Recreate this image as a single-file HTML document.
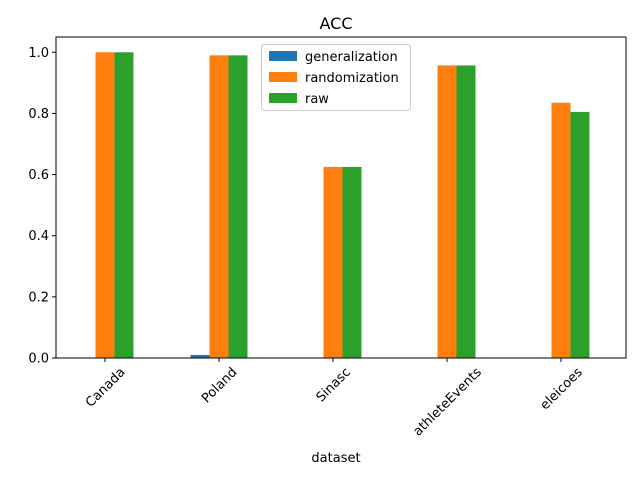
<!DOCTYPE html>
<html><head><meta charset="utf-8"><style>
body{margin:0;background:#fff;font-family:"Liberation Sans","DejaVu Sans",sans-serif}
</style></head><body>
<svg width="640" height="480" font-family="DejaVu Sans, Liberation Sans, sans-serif">
<rect width="640" height="480" fill="#fff"/>
<text x="336" y="29" font-size="16" text-anchor="middle">ACC</text>
<g id="bars"></g>
<g id="axes"></g>
<text x="336" y="462" font-size="13" text-anchor="middle">dataset</text>
<g>
<rect x="261.5" y="44.5" width="149" height="66" rx="3" fill="#fff" fill-opacity="0.8" stroke="#ccc"/>
<rect x="269" y="51" width="28" height="10" fill="#1f77b4"/>
<text x="305" y="61" font-size="13">generalization</text>
<rect x="269" y="72" width="28" height="10" fill="#ff7f0e"/>
<text x="305" y="82" font-size="13">randomization</text>
<rect x="269" y="93" width="28" height="10" fill="#2ca02c"/>
<text x="305" y="103" font-size="13">raw</text>
</g>
</svg>
<script>
const categories=["Canada","Poland","Sinasc","athleteEvents","eleicoes"];
const generalization=[0,0.01,0,0,0];
const randomization=[1.0,0.99,0.625,0.957,0.835];
const raw=[1.0,0.99,0.625,0.957,0.805];
const yTicks=[0,0.2,0.4,0.6,0.8,1.0];
const yTickLabels=["0.0","0.2","0.4","0.6","0.8","1.0"];
const NS="http://www.w3.org/2000/svg";
const L=56,R=626,T=37,B=358,YMAX=1.05;
const y=v=>B-(v/YMAX)*(B-T);
const x=i=>105+114*i;
const bw=19;
const bars=document.getElementById('bars'),axes=document.getElementById('axes');
function mk(tag,attrs,parent){const e=document.createElementNS(NS,tag);for(const k in attrs)e.setAttribute(k,attrs[k]);parent.appendChild(e);return e;}
const series=[[generalization,"#1f77b4","generalization",-1],[randomization,"#ff7f0e","randomization",0],[raw,"#2ca02c","raw",1]];
series.forEach(([vals,col,name,off])=>{
 vals.forEach((v,i)=>{
  const r=mk('rect',{x:x(i)+off*bw-bw/2,y:y(v),width:bw,height:B-y(v),fill:col},bars);
  
  
 });
});
const frame=mk('rect',{x:L,y:T,width:R-L,height:B-T,fill:'none',stroke:'#000','stroke-width':1},axes);


yTicks.forEach((v,i)=>{
 mk('line',{x1:L-4,x2:L,y1:y(v),y2:y(v),stroke:'#000'},axes);
 const t=mk('text',{x:L-7,y:y(v)+4.5,'font-size':13,'text-anchor':'end'},axes);
 t.textContent=yTickLabels[i];
 
 
});
categories.forEach((c,i)=>{
 mk('line',{x1:x(i),x2:x(i),y1:B,y2:B+4,stroke:'#000'},axes);
 const t=mk('text',{x:0,y:0,'font-size':13,'text-anchor':'middle'},axes);
 t.textContent=c;
 
 
 const w=t.getComputedTextLength(),h=13;
 const cy=B+7+(w+h)*0.7071/2;
 t.setAttribute('transform',`translate(${x(i)} ${cy}) rotate(-45) translate(0 4.5)`);
});
</script>
</body></html>
